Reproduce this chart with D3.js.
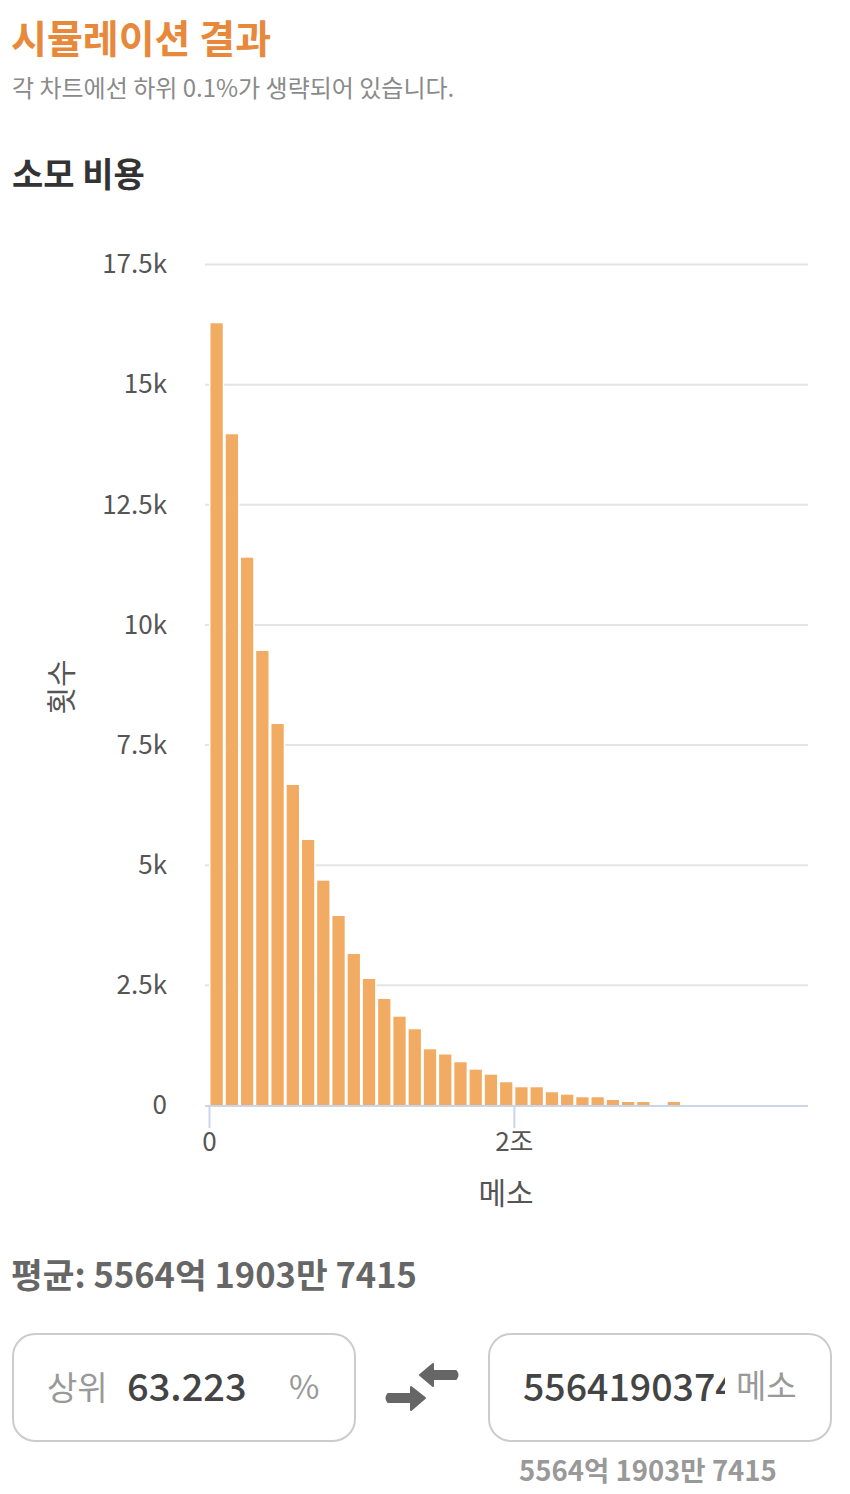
<!DOCTYPE html>
<html><head><meta charset="utf-8">
<script src="https://cdn.jsdelivr.net/npm/d3@7"></script>
<style>
body{margin:0;background:#fff;}
svg{display:block;font-family:"Noto Sans CJK KR","Noto Sans",sans-serif;}
</style>
</head><body><svg id="c" width="850" height="1494"></svg>
<script>
// bin start (억 메소), bin width 1000억
const binStarts = [0,1000,2000,3000,4000,5000,6000,7000,8000,9000,10000,11000,12000,13000,14000,15000,16000,17000,18000,19000,20000,21000,22000,23000,24000,25000,26000,27000,28000,29000,30000];
const counts = [16277,13967,11399,9458,7938,6669,5525,4678,3943,3152,2632,2216,1848,1586,1169,1061,899,745,641,483,379,379,275,225,171,171,114,73,73,0,73];
const binWidth = 1000;
const xTicks = [0, 20000];
const xTickLabels = ["0", "2조"];
const yTicks = [0,2500,5000,7500,10000,12500,15000,17500];
const yTickLabels = ["0","2.5k","5k","7.5k","10k","12.5k","15k","17.5k"];

const svg = d3.select("#c");
const x = d3.scaleLinear().domain([0, 39300]).range([209, 808]);
const y = d3.scaleLinear().domain([0, 17500]).range([1105.5, 264.5]);

// titles
svg.append("text").attr("x",11).attr("y",53).attr("font-size",39).attr("font-weight",700)
  .attr("fill","#E8883A").text("시뮬레이션 결과");
svg.append("text").attr("x",12).attr("y",97).attr("font-size",24).attr("fill","#8a8a8a")
  .text("각 차트에선 하위 0.1%가 생략되어 있습니다.");
svg.append("text").attr("x",12).attr("y",187).attr("font-size",34).attr("font-weight",700)
  .attr("fill","#333").text("소모 비용");

// gridlines
svg.append("g").selectAll("line").data(yTicks.filter(d=>d>0)).join("line")
  .attr("x1",205).attr("x2",808).attr("y1",d=>y(d)).attr("y2",d=>y(d))
  .attr("stroke","#e4e4e4").attr("stroke-width",2);

// bars
const bars = svg.append("g");
binStarts.forEach((s,i)=>{
  const v = counts[i];
  if (v <= 0) return;
  bars.append("rect").attr("x",x(s)).attr("width",x(s+binWidth)-x(s))
    .attr("y",y(v)-1.5).attr("height",y(0)-y(v)+1.5).attr("fill","#fff");
  bars.append("rect").attr("x",x(s)+1.5).attr("width",x(s+binWidth)-x(s)-3)
    .attr("y",y(v)).attr("height",y(0)-y(v)).attr("fill","#F2AB63");
});

// y axis
const yAxis = svg.append("g").attr("transform","translate(167,0)")
  .call(d3.axisLeft(y).tickValues(yTicks).tickFormat((d,i)=>yTickLabels[i]).tickSize(0).tickPadding(0));
yAxis.select(".domain").remove();
yAxis.selectAll("text").attr("font-size",26).attr("fill","#555").attr("font-family","Noto Sans CJK KR");

// x axis
svg.append("line").attr("x1",205).attr("x2",808).attr("y1",1106).attr("y2",1106)
  .attr("stroke","#cbd5ea").attr("stroke-width",2);
const xAxis = svg.append("g").attr("transform","translate(0,1106)")
  .call(d3.axisBottom(x).tickValues(xTicks).tickFormat((d,i)=>xTickLabels[i]).tickSize(22).tickSizeOuter(0).tickPadding(5));
xAxis.select(".domain").remove();
xAxis.selectAll("line").attr("stroke","#cbd5ea").attr("stroke-width",2);
xAxis.selectAll("text").attr("font-size",26).attr("fill","#555").attr("font-family","Noto Sans CJK KR");

// axis titles
svg.append("text").attr("transform","translate(72,687) rotate(-90)").attr("text-anchor","middle")
  .attr("font-size",30).attr("fill","#555").text("횟수");
svg.append("text").attr("x",506).attr("y",1204).attr("text-anchor","middle")
  .attr("font-size",30).attr("fill","#555").text("메소");

// mean
svg.append("text").attr("x",11).attr("y",1288).attr("font-size",34.5).attr("font-weight",600)
  .attr("fill","#666").text("평균: 5564억 1903만 7415");

// boxes
svg.append("rect").attr("x",13).attr("y",1334).attr("width",342).attr("height",107).attr("rx",22)
  .attr("fill","#fff").attr("stroke","#cccccc").attr("stroke-width",2);
svg.append("rect").attr("x",489).attr("y",1334).attr("width",342).attr("height",107).attr("rx",22)
  .attr("fill","#fff").attr("stroke","#cccccc").attr("stroke-width",2);

svg.append("text").attr("x",47).attr("y",1400).attr("font-size",33).attr("fill","#999").text("상위");
svg.append("text").attr("x",127).attr("y",1401).attr("font-size",38).attr("font-weight",500).attr("fill","#444").text("63.223");
svg.append("text").attr("x",289).attr("y",1399).attr("font-size",33).attr("fill","#999").text("%");

svg.append("clipPath").attr("id","numclip").append("rect").attr("x",510).attr("y",1350).attr("width",215).attr("height",80);
svg.append("text").attr("x",523).attr("y",1401).attr("font-size",37.5).attr("font-weight",500).attr("fill","#444")
  .attr("clip-path","url(#numclip)").text("5564190374");
svg.append("text").attr("x",736).attr("y",1398).attr("font-size",33).attr("fill","#999").text("메소");

svg.append("text").attr("x",519).attr("y",1481).attr("font-size",27.5).attr("font-weight",600)
  .attr("fill","#999").text("5564억 1903만 7415");

// swap arrows
const ar = svg.append("g").attr("fill","#666").attr("stroke","#666").attr("stroke-width",2).attr("stroke-linejoin","round");
ar.append("path").attr("d","M420,1375 L433,1364 L433,1371 L456,1371 Q459,1375 456,1379 L433,1379 L433,1386 Z");
ar.append("path").attr("d","M425,1398 L411,1387 L411,1394 L388,1394 Q385,1398 388,1402 L411,1402 L411,1410 Z");
</script>
</body></html>
